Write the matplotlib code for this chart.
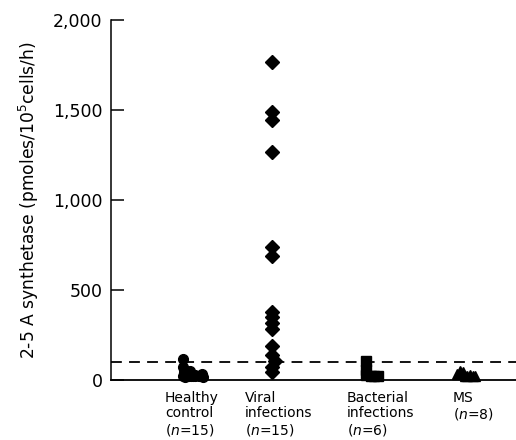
import matplotlib
matplotlib.use("Agg")
import matplotlib.pyplot as plt
from matplotlib.ticker import FuncFormatter

# values (pmoles/10^5 cells/h)
healthy = [115, 72, 45, 50, 30, 32, 20, 20, 20, 20, 20, 18, 18, 22, 20]
viral = [1765, 1490, 1445, 1268, 737, 687, 378, 350, 318, 285, 190, 140, 105, 75, 45]
bacterial = [108, 55, 28, 25, 25, 22]
ms = [50, 45, 35, 25, 30, 25, 20, 20]
cutoff = 100

group_labels = ["Healthy\ncontrol\n($\\it{n}$=15)",
                "Viral\ninfections\n($\\it{n}$=15)",
                "Bacterial\ninfections\n($\\it{n}$=6)",
                "MS\n($\\it{n}$=8)"]
yticks = [0, 500, 1000, 1500, 2000]

# horizontal layout (x axis runs 0..405, one unit per pixel)
group_x = [72, 161, 255, 349]
label_x = [54, 134, 236, 342]
healthy_dx = [0, 0, 1, 7, 12, 19, 0, 4, 8, 12, 16, 20, 2, 6, 10]
viral_dx = [0] * 12 + [3, 0, 0]
bacterial_dx = [0, 0, 0, 8, 12, 5]
ms_dx = [0, 3, -3, 7, 10, 13, 5, 15]

fig = plt.figure(figsize=(5.16, 4.4), dpi=100)
ax = fig.add_axes([111 / 516, 60 / 440, 405 / 516, 360 / 440])

groups = [(healthy, healthy_dx, "o", 7),
          (viral, viral_dx, "D", 7.5),
          (bacterial, bacterial_dx, "s", 7),
          (ms, ms_dx, "^", 7)]
for gx, (vals, dx, mk, ms_size) in zip(group_x, groups):
    ax.plot([gx + d for d in dx], vals, linestyle="none", marker=mk,
            markersize=ms_size, color="black", clip_on=False, zorder=3)

ax.axhline(cutoff, color="black", linestyle=(0, (6, 4)), linewidth=1.3)

ax.set_xlim(0, 405)
ax.set_ylim(0, 2000)
ax.set_yticks(yticks)
ax.yaxis.set_major_formatter(FuncFormatter(lambda v, p: f"{v:,.0f}"))
ax.set_xticks([])
ax.tick_params(axis="y", direction="in", length=9, width=1.1,
               labelsize=12.5, pad=6)
for s in ["top", "right"]:
    ax.spines[s].set_visible(False)
ax.spines["left"].set_linewidth(1.1)
ax.spines["bottom"].set_linewidth(1.3)

ax.set_ylabel("2-5 A synthetase (pmoles/10$^5$cells/h)", fontsize=12.3, labelpad=9)

for lx, lab in zip(label_x, group_labels):
    ax.text(lx, -0.03, lab, transform=ax.get_xaxis_transform(),
            ha="left", va="top", fontsize=10, linespacing=1.12)

fig.savefig("out.png", dpi=100)
